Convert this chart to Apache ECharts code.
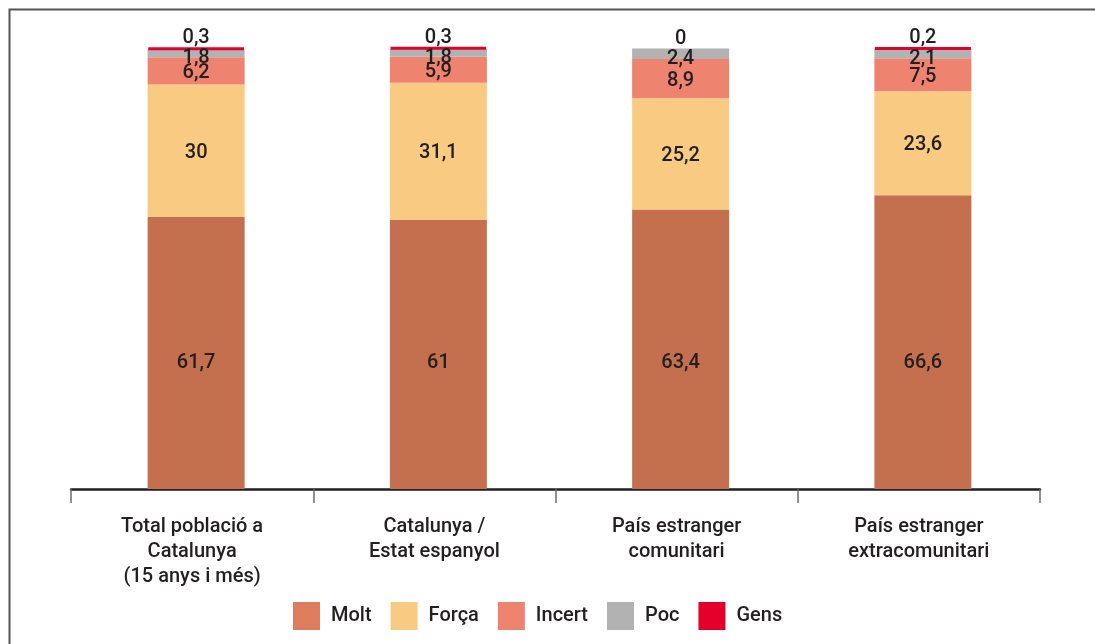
<!DOCTYPE html>
<html>
<head>
<meta charset="utf-8">
<script src="https://cdn.jsdelivr.net/npm/echarts@6/dist/echarts.min.js"></script>
<style>
  html, body { margin: 0; padding: 0; background: #fff; }
  #chart { width: 1095px; height: 644px; }
</style>
</head>
<body>
<div id="chart"></div>
<script>
// Origin groups
const categories = [
  'Total població a\nCatalunya\n(15 anys i més)',
  'Catalunya /\nEstat espanyol',
  'País estranger\ncomunitari',
  'País estranger\nextracomunitari'
];

// Percentages per answer
const molt   = [61.7, 61, 63.4, 66.6];
const forca  = [30, 31.1, 25.2, 23.6];
const incert = [6.2, 5.9, 8.9, 7.5];
const poc    = [1.8, 1.8, 2.4, 2.1];
const gens   = [0.3, 0.3, 0, 0.2];

const seriesNames = ['Molt', 'Força', 'Incert', 'Poc', 'Gens'];

const barColors    = ['#C4704F', '#F9CA81', '#EE8470', '#B2B2B2', '#E4002B'];
const legendColors = ['#E07C5E', '#F9CA81', '#EE8470', '#B2B2B2', '#E4002B'];

const fontFamily = 'Roboto, "DejaVu Sans", sans-serif';
const textColor = '#231F20';
const fontSize = 20;

const fmt = p => String(p.value).replace('.', ',');

function mkSeries(name, data, idx, label) {
  return {
    name: name,
    type: 'bar',
    stack: 'total',
    xAxisIndex: 1,
    yAxisIndex: 1,
    data: data,
    barWidth: 97,
    itemStyle: { color: barColors[idx] },
    label: Object.assign({
      show: true,
      formatter: fmt,
      color: textColor,
      fontFamily: fontFamily,
      fontWeight: 500,
      fontSize: fontSize
    }, label),
    emphasis: { disabled: true }
  };
}

// thin "Gens" slices get an outline of the same red so they stay visible
const gensData = gens.map(v => v > 0
  ? { value: v, itemStyle: { borderColor: barColors[4], borderWidth: 3 } }
  : v);

const chart = echarts.init(document.getElementById('chart'), null, { renderer: 'canvas' });

chart.setOption({
  animation: false,
  backgroundColor: '#ffffff',
  graphic: [{
    type: 'rect',
    shape: { x: 9.5, y: 9.5, width: 1200, height: 800 },
    style: { fill: 'none', stroke: '#555555', lineWidth: 2 },
    silent: true
  }],
  grid: [
    { left: 71, right: 55, top: 48, bottom: 155 },
    { left: 75, right: 51, top: 48, bottom: 155 }
  ],
  legend: {
    bottom: 14,
    left: 293,
    padding: 0,
    itemWidth: 27,
    itemHeight: 28,
    itemGap: 19,
    icon: 'rect',
    textStyle: { color: textColor, fontFamily: fontFamily, fontWeight: 500, fontSize: fontSize, padding: [0, 0, 0, 6] },
    data: seriesNames.map((n, i) => ({ name: n, itemStyle: { color: legendColors[i] } }))
  },
  xAxis: [{
    gridIndex: 0,
    type: 'category',
    data: categories,
    boundaryGap: true,
    axisLine: { lineStyle: { color: '#231F20', width: 2.5 } },
    axisTick: { show: true, length: 14, lineStyle: { color: '#6D6D6D', width: 1.5 } },
    axisLabel: {
      color: textColor,
      fontFamily: fontFamily,
      fontWeight: 500,
      fontSize: fontSize,
      lineHeight: 25,
      margin: 25,
      interval: 0
    }
  }, {
    gridIndex: 1,
    type: 'category',
    data: categories,
    show: false
  }],
  yAxis: [
    { gridIndex: 0, type: 'value', min: 0, max: 100, show: false },
    { gridIndex: 1, type: 'value', min: 0, max: 100, show: false }
  ],
  series: [
    mkSeries('Molt', molt, 0, { position: 'insideBottom', distance: 116 }),
    mkSeries('Força', forca, 1, { position: 'inside', offset: [0, 2] }),
    mkSeries('Incert', incert, 2, { position: 'inside', offset: [0, 2] }),
    mkSeries('Poc', poc, 3, { position: 'inside', offset: [0, 5] }),
    mkSeries('Gens', gensData, 4, { position: 'top', distance: 0, offset: [0, 1] })
  ]
});
</script>
</body>
</html>
